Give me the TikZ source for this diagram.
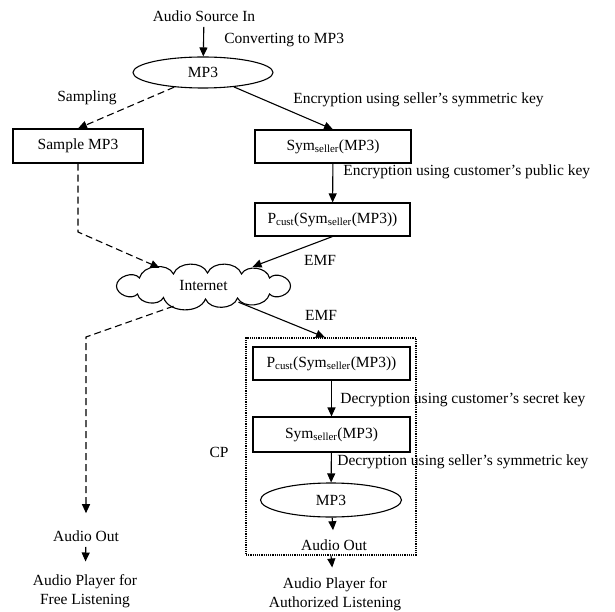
\documentclass[tikz,border=0pt]{standalone}
\usepackage{fontspec}
\setmainfont{Liberation Serif}
\usetikzlibrary{arrows.meta, calc, shapes.geometric}

\tikzset{
	box/.style={draw, line width=1.1pt, inner sep=0pt},
	oval/.style={draw, ellipse, line width=1.1pt, inner sep=0pt},
	flow/.style={line width=1.1pt, -{Triangle[length=9pt, width=8pt]}},
	dashes/.style={dash pattern=on 7pt off 4pt},
	puff/.style={bend left=70},
}

\begin{document}
\begin{tikzpicture}[x=1pt, y=-1pt]
	\useasboundingbox (0,0) rectangle (615,612);
	\fontsize{15.5}{19}\selectfont

	\coordinate (kinkA) at (78,232);
	\coordinate (kinkB) at (86,337);

	% sender side
	\node (src) at (204,16) {Audio Source In};
	\node[oval, minimum width=140pt, minimum height=31pt] (mp3) at (203,72.5) {MP3};
	\node[box, minimum width=130pt, minimum height=34pt] (smp) at (78,146) {Sample MP3};
	\node[box, minimum width=156pt, minimum height=33pt] (sym) at (333,146.5) {Sym\textsubscript{seller}(MP3)};
	\node[box, minimum width=155pt, minimum height=33pt] (pc) at (332.5,219.5) {P\textsubscript{cust}(Sym\textsubscript{seller}(MP3))};
	\node[ellipse, inner sep=0pt, minimum width=181pt, minimum height=42pt] (net) at (203.5,286) {Internet};
	\draw[line width=1.1pt, shift={(net.center)}]
		(-87,0) to[puff] (-64,-8) to[puff] (-30,-12) to[puff] (4,-13) to[puff] (38,-12)
		to[puff] (66,-8) to[puff] (87,0) to[puff] (66,8) to[puff] (34,12) to[puff] (2,13)
		to[puff] (-40,11.5) to[puff] (-66,8) to[puff] cycle;

	% customer side
	\node[draw, densely dotted, line width=1.2pt, minimum width=170pt, minimum height=217pt] (cp) at (331,446.5) {};
	\node[box, minimum width=157pt, minimum height=33pt] (pc2) at (331.5,363.5) {P\textsubscript{cust}(Sym\textsubscript{seller}(MP3))};
	\node[box, minimum width=157pt, minimum height=35pt] (sym2) at (331.5,434.5) {Sym\textsubscript{seller}(MP3)};
	\node[oval, minimum width=141pt, minimum height=34pt] (mp3b) at (331,500) {MP3};
	\node (out2) at (334,545) {Audio Out};
	\node[align=center] (play2) at (335,594.5) {Audio Player for\\Authorized Listening};
	\node (out1) at (86,536) {Audio Out};
	\node[align=center] (play1) at (85,591.5) {Audio Player for\\Free Listening};

	% labels
	\node[anchor=west] at (219,40) {Converting to MP3};
	\node at (87,98) {Sampling};
	\node[anchor=west] at (288,100) {Encryption using seller's symmetric key};
	\node[anchor=west] at (338,172) {Encryption using customer's public key};
	\node at (320,260) {EMF};
	\node at (321,315) {EMF};
	\node at (219,452) {CP};
	\node[anchor=west] at (335,400) {Decryption using customer's secret key};
	\node[anchor=west] at (332,462) {Decryption using seller's symmetric key};

	\draw[flow] (src) -- (mp3);
	\draw[flow, dashes] (mp3.207) -- (smp.north);
	\draw[flow] (mp3.335) -- (sym.north);
	\draw[flow] (sym) -- (pc);
	\draw[flow, dashes] (smp) -- (kinkA) -- ($(net.north)+(-44,3)$);
	\draw[flow] (pc.south) -- ($(net.north)+(49,2)$);
	\draw[flow, dashes, shorten >=12pt] ($(net.south)+(-30,-1)$) -- (kinkB) -- (out1);
	\draw[flow, shorten >=8pt] (out1) -- (play1);
	\draw[flow] ($(net.south)+(35,-5)$) -- ($(cp.north)+(-6,0)$);
	\draw[flow] (pc2) -- (sym2);
	\draw[flow] (sym2) -- (mp3b);
	\draw[flow, shorten >=4pt] (mp3b) -- (out2);
	\draw[flow, shorten >=5pt] (cp.south) -- (play2);
\end{tikzpicture}
\end{document}
